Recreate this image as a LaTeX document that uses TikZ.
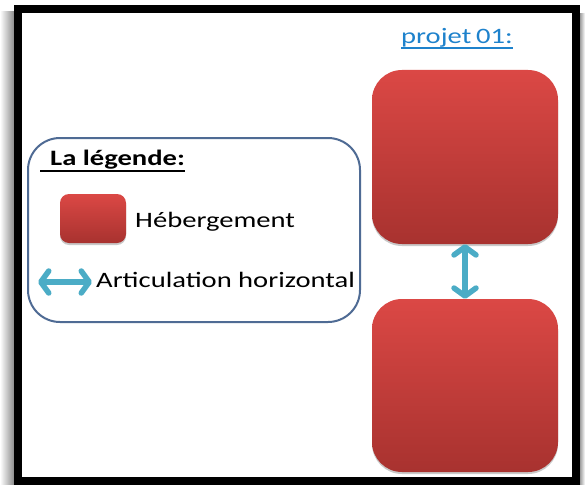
\documentclass[tikz,border=0pt]{standalone}
\usepackage{fontspec}
\setmainfont{Carlito}
\usetikzlibrary{arrows.meta,shadows,calc}
\definecolor{boxtop}{HTML}{DB4845}
\definecolor{boxbot}{HTML}{A8322F}
\definecolor{arrcol}{HTML}{4BACC6}
\definecolor{legframe}{HTML}{4F6B94}
\definecolor{linkblue}{HTML}{1E82CC}
\tikzset{
  redbox/.style={rounded corners=#1, top color=boxtop, bottom color=boxbot, draw=none,
    drop shadow={shadow xshift=0pt, shadow yshift=-2pt, opacity=.35, fill=black!60}},
  lbl/.style={font=\fontsize{22}{24}\selectfont, inner sep=0pt, text=black},
  arr/.style={draw=arrcol, line width=5.5pt,
    {Straight Barb[length=8pt,width=22pt,line cap=round,line join=round]}-{Straight Barb[length=8pt,width=22pt,line cap=round,line join=round]}},
  uline/.style={line width=1.2pt}
}
\begin{document}
\begin{tikzpicture}[x=1pt,y=-1pt]
\useasboundingbox (0,0) rectangle (585,484);
\fill[white] (0,0) rectangle (585,484);
% frame shadows
\shade[left color=white, right color=black!45] (0,12) rectangle (14,484);
\shade[left color=black!45, right color=white] (579,14) rectangle (585,484);
% frame
\draw[line width=8pt] (18,9) rectangle (575.5,481);
% title
\node[lbl, text=linkblue, anchor=base west] (title) at (401,44) {\scalebox{1.3}[1]{projet\,01:}};
\draw[uline, linkblue] ($(title.base west)+(0,4)$) -- ($(title.base east)+(0,4)$);
% boxes
\node[redbox=30pt, minimum width=186pt, minimum height=174pt] (b1) at (465,157) {};
\node[redbox=30pt, minimum width=186pt, minimum height=173pt] (b2) at (465,385.5) {};
\draw[arr] (b1.south) -- (b2.north);
% legend
\node[draw=legframe, line width=2pt, rounded corners=32pt, minimum width=332pt, minimum height=184pt, fill=white] (leg) at (194,230) {};
\node[lbl, anchor=base west, font=\fontsize{22}{24}\selectfont\bfseries] (legt) at (50,165) {\scalebox{1.3}[1]{La légende:}};
\draw[uline, black] ($(legt.base west)+(-10,6)$) -- ($(legt.base east)+(0,6)$);
\node[redbox=9pt, minimum width=66pt, minimum height=49pt] (lb) at (93,218.5) {};
\node[lbl, anchor=base west] (lh) at (135,227) {\scalebox{1.3}[1]{Hébergement}};
\coordinate (la1) at (38,282);
\coordinate (la2) at (92,282);
\draw[arr] (la1) -- (la2);
\node[lbl, anchor=base west] (lart) at (96,287) {\scalebox{1.3}[1]{Articulation horizontal}};
\end{tikzpicture}
\end{document}
